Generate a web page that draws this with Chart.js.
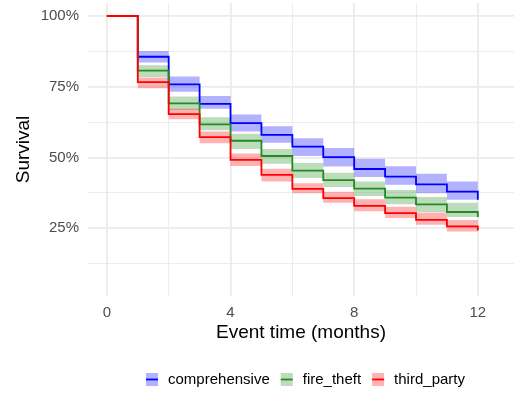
<!DOCTYPE html>
<html>
<head>
<meta charset="utf-8">
<script src="https://cdn.jsdelivr.net/npm/chart.js@4.4.0/dist/chart.umd.min.js"></script>
<style>
html, body { margin: 0; padding: 0; background: #fff; }
</style>
</head>
<body>
<canvas id="chart" width="514" height="394"></canvas>
<script>
// months since start
var months = [0, 1, 2, 3, 4, 5, 6, 7, 8, 9, 10, 11, 12];

// survival (%) per policy type, with confidence bands
var comprehensive = [100, 85.6, 75.8, 68.9, 62.1, 58.0, 53.8, 50.1, 45.9, 43.2, 40.5, 37.9, 35.0];
var compUpper     = [100, 87.6, 78.6, 71.7, 65.2, 61.0, 56.8, 53.3, 49.5, 46.9, 44.2, 41.5, 41.5];
var compLower     = [100, 83.6, 73.2, 67.2, 59.2, 55.2, 50.5, 46.8, 43.1, 40.3, 37.3, 35.0, 35.0];

var fireTheft = [100, 80.7, 69.1, 61.7, 55.9, 50.5, 45.3, 42.0, 39.0, 35.8, 33.4, 30.7, 28.9];
var fireUpper = [100, 82.6, 71.5, 64.2, 58.4, 53.0, 48.0, 44.6, 41.5, 38.5, 36.0, 34.0, 34.0];
var fireLower = [100, 78.4, 66.8, 59.6, 53.0, 47.8, 42.7, 39.5, 36.4, 33.4, 30.6, 28.9, 28.9];

var thirdParty = [100, 76.6, 65.3, 57.2, 49.1, 43.8, 38.9, 35.6, 32.9, 30.3, 27.9, 25.6, 24.2];
var thirdUpper = [100, 78.3, 67.2, 59.2, 51.4, 46.0, 40.9, 37.9, 35.2, 32.6, 30.4, 27.9, 27.9];
var thirdLower = [100, 74.5, 63.5, 55.0, 47.0, 41.5, 37.3, 34.0, 31.0, 28.6, 26.2, 23.8, 23.8];

// axis ticks (major get labels, the rest are minor grid lines)
var xTicks = [0, 2, 4, 6, 8, 10, 12];
var xMajor = [0, 4, 8, 12];
var yTicks = [12.5, 25, 37.5, 50, 62.5, 75, 87.5, 100];
var yMajor = [25, 50, 75, 100];

var FONT = '"Liberation Sans", Arial, Helvetica, sans-serif';

function pts(values){
	return values.map((v, i) => ({x: months[i], y: v}));
}

function lineSet(label, values, color, fill, order){
	return {
		label: label,
		data: pts(values),
		borderColor: color,
		backgroundColor: fill,
		borderWidth: 1.8,
		pointRadius: 0,
		stepped: 'before',
		fill: false,
		order: order,
		legendKey: true,
	};
}

function bandSet(values, fill, isUpper, order){
	return {
		label: '',
		data: pts(values),
		borderWidth: 0,
		borderColor: 'rgba(0,0,0,0)',
		backgroundColor: fill,
		pointRadius: 0,
		stepped: 'before',
		fill: isUpper ? '+1' : false,
		order: order,
	};
}

// legend drawn under the x axis title
var bottomLegend = {
	id: 'bottomLegend',
	afterDraw: function(chart){
		var ctx = chart.ctx;
		var items = chart.data.datasets.filter(d => d.legendKey);
		ctx.save();
		ctx.font = '15px ' + FONT;
		var widths = items.map(d => ctx.measureText(d.label).width);
		var total = 0;
		widths.forEach(w => { total += 12 + 10 + w; });
		total += 11 * (items.length - 1);
		var x = 305.5 - total / 2;
		items.forEach((d, i) => {
			ctx.fillStyle = d.backgroundColor;
			ctx.fillRect(x, 373, 12, 13);
			ctx.strokeStyle = d.borderColor;
			ctx.lineWidth = 1.8;
			ctx.beginPath();
			ctx.moveTo(x, 379.5);
			ctx.lineTo(x + 12, 379.5);
			ctx.stroke();
			ctx.fillStyle = '#000';
			ctx.textBaseline = 'middle';
			ctx.textAlign = 'left';
			ctx.fillText(d.label, x + 22, 380);
			x += 12 + 10 + widths[i] + 11;
		});
		ctx.restore();
	}
};

function gridWidth(major){
	return ctx => major.includes(ctx.tick.value) ? 1.8 : 0.9;
}

chart = new Chart(document.getElementById('chart'), {
	type: 'line',
	data: {
		datasets: [
			lineSet('comprehensive', comprehensive, '#0000FF', 'rgba(0,0,255,0.3)', 2),
			lineSet('fire_theft', fireTheft, '#228B22', 'rgba(34,139,34,0.3)', 1),
			lineSet('third_party', thirdParty, '#FF0000', 'rgba(255,0,0,0.3)', 0),
			bandSet(compUpper, 'rgba(0,0,255,0.3)', true, 5),
			bandSet(compLower, 'rgba(0,0,255,0.3)', false, 5),
			bandSet(fireUpper, 'rgba(34,139,34,0.3)', true, 4),
			bandSet(fireLower, 'rgba(34,139,34,0.3)', false, 4),
			bandSet(thirdUpper, 'rgba(255,0,0,0.3)', true, 3),
			bandSet(thirdLower, 'rgba(255,0,0,0.3)', false, 3),
		]
	},
	options: {
		responsive: false,
		animation: false,
		layout: {padding: {top: 3, right: 0, bottom: 0, left: 0}},
		plugins: {
			legend: {display: false},
			tooltip: {enabled: false},
		},
		scales: {
			x: {
				type: 'linear',
				min: -0.61,
				max: 13.17,
				afterBuildTicks: scale => { scale.ticks = xTicks.map(v => ({value: v})); },
				afterFit: scale => {
					scale.height = 98;
					scale.paddingLeft = 0;
					scale.paddingRight = 0;
				},
				border: {display: false},
				grid: {color: '#EBEBEB', lineWidth: gridWidth(xMajor), drawTicks: false},
				ticks: {
					padding: 8,
					color: '#4D4D4D',
					font: {family: FONT, size: 15},
					maxRotation: 0,
					callback: v => xMajor.includes(v) ? String(v) : '',
				},
				title: {
					display: true,
					text: 'Event time (months)',
					color: '#000',
					font: {family: FONT, size: 19},
					padding: {top: 0, bottom: 50},
				},
			},
			y: {
				min: 1,
				max: 104.6,
				afterBuildTicks: scale => { scale.ticks = yTicks.map(v => ({value: v})); },
				afterFit: scale => {
					scale.width = 88;
					scale.paddingTop = 0;
					scale.paddingBottom = 0;
				},
				border: {display: false},
				grid: {color: '#EBEBEB', lineWidth: gridWidth(yMajor), drawTicks: false},
				ticks: {
					padding: 9,
					color: '#4D4D4D',
					font: {family: FONT, size: 15},
					callback: v => yMajor.includes(v) ? v + '%' : '',
				},
				title: {
					display: true,
					text: 'Survival',
					color: '#000',
					font: {family: FONT, size: 19},
					padding: {top: 12, bottom: 0},
				},
			},
		},
	},
	plugins: [bottomLegend],
});
</script>
</body>
</html>
